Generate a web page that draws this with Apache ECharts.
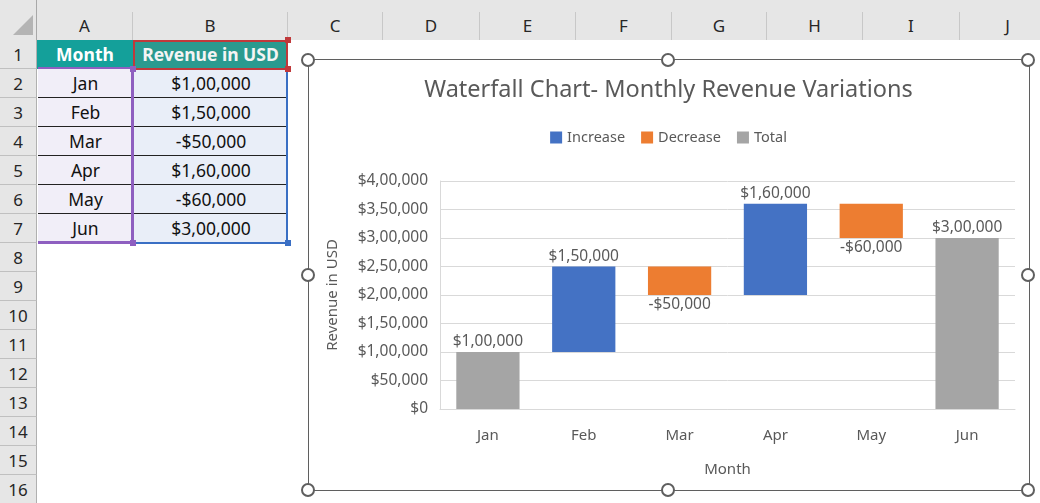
<!doctype html>
<html>
<head>
  <meta charset="utf-8">
  <title>Waterfall Chart- Monthly Revenue Variations</title>
  <script src="https://cdn.jsdelivr.net/npm/echarts@6/dist/echarts.min.js"></script>
  <style>
    html, body { margin:0; padding:0; background:#fff; }
    body { width:1040px; height:503px; position:relative; overflow:hidden; font-family:"Noto Sans", sans-serif; }
    .abs { position:absolute; box-sizing:border-box; }
    .colhdr { background:#e6e6e6; color:#262626; font-size:17px; text-align:center; line-height:28px; border-right:1px solid #c8c8c8; }
    .rowhdr { background:#e6e6e6; color:#262626; font-size:17px; text-align:center; border-bottom:1px solid #c0c0c0; border-right:1px solid #b0b0b0; }
    .cell { font-size:17.5px; text-align:center; color:#111; }
    .handle { width:14px; height:14px; border-radius:50%; border:2.5px solid #5f5f5f; background:#fff; }
  </style>
</head>
<body>
<div id="sheet"></div>
<div class="abs" style="left:308px;top:59px;width:722px;height:432px;border:1.5px solid #5f5f5f;"></div>
<div id="chart" class="abs" style="left:309px;top:60px;width:719px;height:430px;"></div>
<div id="handles"></div>

<script type="text/javascript">
// data of the sheet / chart
var months = ['Jan', 'Feb', 'Mar', 'Apr', 'May', 'Jun'];
var revenue = [100000, 150000, -50000, 160000, -60000, 300000];
var kinds = ['Total', 'Increase', 'Decrease', 'Increase', 'Decrease', 'Total'];
var colLetters = ['A', 'B', 'C', 'D', 'E', 'F', 'G', 'H', 'I', 'J'];
var colEdges = [37, 133, 288, 383, 480, 576, 672, 767, 863, 960, 1056];

// indian style grouping, $1,00,000
function inr(v) {
  var s = String(Math.abs(v));
  var last3 = s.slice(-3), rest = s.slice(0, -3);
  if (rest) rest = rest.replace(/\B(?=(\d{2})+(?!\d))/g, ',') + ',';
  return (v < 0 ? '-' : '') + '$' + rest + last3;
}

// spreadsheet background
var sheet = document.getElementById('sheet');
var html = '';
html += '<div class="abs" style="left:0;top:0;width:1040px;height:40px;background:#e6e6e6;border-bottom:1px solid #b8b8b8"></div>';
html += '<div class="abs" style="left:0;top:0;width:37px;height:503px;background:#e6e6e6;border-right:1px solid #a8a8a8"></div>';
html += '<div class="abs" style="left:13px;top:15px;width:0;height:0;border-left:20px solid transparent;border-bottom:20px solid #b4b4b4"></div>';
for (var i = 0; i < colLetters.length; i++) {
  html += '<div class="abs colhdr" style="left:' + colEdges[i] + 'px;top:12px;width:' + (colEdges[i + 1] - colEdges[i]) + 'px;height:28px">' + colLetters[i] + '</div>';
}
var rowH = 29, rowTop = 40;
for (var r = 0; r < 16; r++) {
  html += '<div class="abs rowhdr" style="left:0;top:' + (rowTop + r * rowH) + 'px;width:37px;height:' + rowH + 'px;line-height:' + rowH + 'px">' + (r + 1) + '</div>';
}
// header cells
html += '<div class="abs cell" style="left:37px;top:40px;width:96px;height:29px;line-height:29px;background:#14a09a;color:#fff;font-weight:bold">Month</div>';
html += '<div class="abs cell" style="left:133px;top:40px;width:155px;height:29px;line-height:29px;background:#2a9a8f;color:#f4f4f4;font-weight:bold">Revenue in USD</div>';
for (var k = 0; k < months.length; k++) {
  var t = 69 + k * rowH;
  html += '<div class="abs cell" style="left:38px;top:' + t + 'px;width:95px;height:' + rowH + 'px;line-height:' + rowH + 'px;background:#f1eef8;' + (k < 5 ? 'border-bottom:1px solid #222' : '') + '">' + months[k] + '</div>';
  html += '<div class="abs cell" style="left:134px;top:' + t + 'px;width:154px;height:' + rowH + 'px;line-height:' + rowH + 'px;background:#e9eef8;' + (k < 5 ? 'border-bottom:1px solid #222' : '') + '">' + inr(revenue[k]) + '</div>';
}
// range highlights
html += '<div class="abs" style="left:131px;top:69px;width:3px;height:175px;background:#8e5fc0"></div>';
html += '<div class="abs" style="left:38px;top:241px;width:95px;height:3px;background:#8e5fc0"></div>';
html += '<div class="abs" style="left:38px;top:67px;width:95px;height:2px;background:#8e5fc0"></div>';
html += '<div class="abs" style="left:133px;top:40px;width:155px;height:30px;border:2px solid #c0393b"></div>';
html += '<div class="abs" style="left:134px;top:69px;width:154px;height:175px;border:2px solid #3a6fc4;border-left:none;border-top:none"></div>';
html += '<div class="abs" style="left:130px;top:66px;width:6px;height:6px;background:#8e5fc0"></div>';
html += '<div class="abs" style="left:130px;top:240px;width:6px;height:6px;background:#8e5fc0"></div>';
html += '<div class="abs" style="left:285px;top:240px;width:6px;height:6px;background:#3a6fc4"></div>';
html += '<div class="abs" style="left:285px;top:66px;width:6px;height:6px;background:#c0393b"></div>';
html += '<div class="abs" style="left:285px;top:37px;width:6px;height:6px;background:#c0393b"></div>';
sheet.innerHTML = html;

// chart frame handles
var hpts = [[308, 60], [668, 60], [1028, 60], [308, 275], [1028, 275], [308, 490], [668, 490], [1028, 490]];
var hh = '';
hpts.forEach(function (p) {
  hh += '<div class="abs handle" style="left:' + (p[0] - 7) + 'px;top:' + (p[1] - 7) + 'px"></div>';
});
document.getElementById('handles').innerHTML = hh;

// waterfall pieces
var baseData = [], incData = [], decData = [], totData = [];
var run = 0;
for (var j = 0; j < revenue.length; j++) {
  var v = revenue[j];
  if (kinds[j] === 'Total') {
    baseData.push(0); totData.push(v); incData.push('-'); decData.push('-');
    run = v;
  } else if (kinds[j] === 'Increase') {
    baseData.push(run); incData.push(v); decData.push('-'); totData.push('-');
    run += v;
  } else {
    run += v;
    baseData.push(run); decData.push(-v); incData.push('-'); totData.push('-');
  }
}

var txt = '#595959';
var chart = echarts.init(document.getElementById('chart'));
var option = {
  animation: false,
  textStyle: { fontFamily: 'Noto Sans' },
  title: {
    text: 'Waterfall Chart- Monthly Revenue Variations',
    left: 'center', top: 13,
    textStyle: { fontSize: 23.5, fontWeight: 'normal', color: txt }
  },
  legend: {
    top: 65, left: 'center',
    data: ['Increase', 'Decrease', 'Total'],
    icon: 'rect', itemWidth: 12, itemHeight: 12, itemGap: 16,
    textStyle: { fontSize: 14.5, color: txt }
  },
  grid: { left: 131, right: 13, top: 121, bottom: 81 },
  xAxis: {
    type: 'category',
    data: months,
    name: 'Month', nameLocation: 'middle', nameGap: 53,
    nameTextStyle: { fontSize: 15, color: txt },
    axisLine: { lineStyle: { color: '#d9d9d9' } },
    axisTick: { show: false },
    axisLabel: { fontSize: 15, color: txt, margin: 19 }
  },
  yAxis: {
    type: 'value', min: 0, max: 400000, interval: 50000,
    name: 'Revenue in USD', nameLocation: 'middle', nameGap: 100,
    nameTextStyle: { fontSize: 15, color: txt },
    axisLine: { show: true, lineStyle: { color: '#d9d9d9' } },
    axisTick: { show: false },
    splitLine: { lineStyle: { color: '#d9d9d9' } },
    axisLabel: { fontSize: 15.5, color: txt, margin: 12, formatter: inr }
  },
  series: [
    { name: 'base', type: 'bar', stack: 'w', barWidth: '66%', data: baseData,
      itemStyle: { color: 'transparent' }, silent: true },
    { name: 'Increase', type: 'bar', stack: 'w', data: incData,
      itemStyle: { color: '#4472c4' },
      label: { show: true, position: 'top', fontSize: 15.5, color: txt, distance: 2,
        formatter: function (p) { return inr(revenue[p.dataIndex]); } } },
    { name: 'Decrease', type: 'bar', stack: 'w', data: decData,
      itemStyle: { color: '#ed7d31' },
      label: { show: true, position: 'bottom', fontSize: 15.5, color: txt, distance: 2,
        formatter: function (p) { return inr(revenue[p.dataIndex]); } } },
    { name: 'Total', type: 'bar', stack: 'w', data: totData,
      itemStyle: { color: '#a5a5a5' },
      label: { show: true, position: 'top', fontSize: 15.5, color: txt, distance: 2,
        formatter: function (p) { return inr(revenue[p.dataIndex]); } } }
  ]
};
chart.setOption(option);
</script>
</body>
</html>
